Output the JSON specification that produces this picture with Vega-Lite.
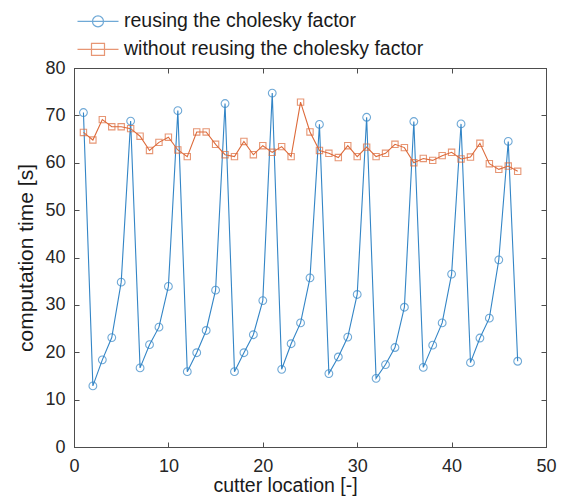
{
  "$schema": "https://vega.github.io/schema/vega-lite/v6.json",
  "width": 472,
  "height": 379,
  "autosize": {"type": "none"},
  "padding": {"left": 74, "top": 68, "right": 22, "bottom": 51},
  "background": "white",
  "config": {
    "font": "Liberation Sans",
    "view": {"stroke": "#4d4d4d", "strokeWidth": 1},
    "axis": {
      "grid": false,
      "domainColor": "#4d4d4d",
      "tickColor": "#4d4d4d",
      "tickSize": -5,
      "labelFlush": false,
      "labelFont": "Liberation Sans",
      "labelFontSize": 18,
      "labelColor": "#262626",
      "titleFont": "Liberation Sans",
      "titleFontWeight": "normal",
      "titleColor": "#1a1a1a",
      "titleFontSize": 20
    }
  },
  "data": {"values": [
    {"x":1,"t":70.6,"s":"reusing the cholesky factor"},
    {"x":2,"t":12.9,"s":"reusing the cholesky factor"},
    {"x":3,"t":18.4,"s":"reusing the cholesky factor"},
    {"x":4,"t":23.1,"s":"reusing the cholesky factor"},
    {"x":5,"t":34.8,"s":"reusing the cholesky factor"},
    {"x":6,"t":68.8,"s":"reusing the cholesky factor"},
    {"x":7,"t":16.7,"s":"reusing the cholesky factor"},
    {"x":8,"t":21.6,"s":"reusing the cholesky factor"},
    {"x":9,"t":25.3,"s":"reusing the cholesky factor"},
    {"x":10,"t":33.9,"s":"reusing the cholesky factor"},
    {"x":11,"t":71.0,"s":"reusing the cholesky factor"},
    {"x":12,"t":15.9,"s":"reusing the cholesky factor"},
    {"x":13,"t":19.9,"s":"reusing the cholesky factor"},
    {"x":14,"t":24.6,"s":"reusing the cholesky factor"},
    {"x":15,"t":33.1,"s":"reusing the cholesky factor"},
    {"x":16,"t":72.5,"s":"reusing the cholesky factor"},
    {"x":17,"t":15.9,"s":"reusing the cholesky factor"},
    {"x":18,"t":19.9,"s":"reusing the cholesky factor"},
    {"x":19,"t":23.7,"s":"reusing the cholesky factor"},
    {"x":20,"t":30.9,"s":"reusing the cholesky factor"},
    {"x":21,"t":74.7,"s":"reusing the cholesky factor"},
    {"x":22,"t":16.4,"s":"reusing the cholesky factor"},
    {"x":23,"t":21.8,"s":"reusing the cholesky factor"},
    {"x":24,"t":26.2,"s":"reusing the cholesky factor"},
    {"x":25,"t":35.7,"s":"reusing the cholesky factor"},
    {"x":26,"t":68.1,"s":"reusing the cholesky factor"},
    {"x":27,"t":15.5,"s":"reusing the cholesky factor"},
    {"x":28,"t":19.0,"s":"reusing the cholesky factor"},
    {"x":29,"t":23.2,"s":"reusing the cholesky factor"},
    {"x":30,"t":32.2,"s":"reusing the cholesky factor"},
    {"x":31,"t":69.6,"s":"reusing the cholesky factor"},
    {"x":32,"t":14.5,"s":"reusing the cholesky factor"},
    {"x":33,"t":17.4,"s":"reusing the cholesky factor"},
    {"x":34,"t":21.0,"s":"reusing the cholesky factor"},
    {"x":35,"t":29.5,"s":"reusing the cholesky factor"},
    {"x":36,"t":68.7,"s":"reusing the cholesky factor"},
    {"x":37,"t":16.8,"s":"reusing the cholesky factor"},
    {"x":38,"t":21.5,"s":"reusing the cholesky factor"},
    {"x":39,"t":26.2,"s":"reusing the cholesky factor"},
    {"x":40,"t":36.5,"s":"reusing the cholesky factor"},
    {"x":41,"t":68.2,"s":"reusing the cholesky factor"},
    {"x":42,"t":17.8,"s":"reusing the cholesky factor"},
    {"x":43,"t":23.0,"s":"reusing the cholesky factor"},
    {"x":44,"t":27.2,"s":"reusing the cholesky factor"},
    {"x":45,"t":39.5,"s":"reusing the cholesky factor"},
    {"x":46,"t":64.5,"s":"reusing the cholesky factor"},
    {"x":47,"t":18.1,"s":"reusing the cholesky factor"},
    {"x":1,"t":66.4,"s":"without reusing the cholesky factor"},
    {"x":2,"t":64.8,"s":"without reusing the cholesky factor"},
    {"x":3,"t":69.1,"s":"without reusing the cholesky factor"},
    {"x":4,"t":67.6,"s":"without reusing the cholesky factor"},
    {"x":5,"t":67.6,"s":"without reusing the cholesky factor"},
    {"x":6,"t":67.2,"s":"without reusing the cholesky factor"},
    {"x":7,"t":65.6,"s":"without reusing the cholesky factor"},
    {"x":8,"t":62.6,"s":"without reusing the cholesky factor"},
    {"x":9,"t":64.3,"s":"without reusing the cholesky factor"},
    {"x":10,"t":65.4,"s":"without reusing the cholesky factor"},
    {"x":11,"t":62.7,"s":"without reusing the cholesky factor"},
    {"x":12,"t":61.3,"s":"without reusing the cholesky factor"},
    {"x":13,"t":66.5,"s":"without reusing the cholesky factor"},
    {"x":14,"t":66.5,"s":"without reusing the cholesky factor"},
    {"x":15,"t":63.9,"s":"without reusing the cholesky factor"},
    {"x":16,"t":61.7,"s":"without reusing the cholesky factor"},
    {"x":17,"t":61.3,"s":"without reusing the cholesky factor"},
    {"x":18,"t":64.5,"s":"without reusing the cholesky factor"},
    {"x":19,"t":61.7,"s":"without reusing the cholesky factor"},
    {"x":20,"t":63.6,"s":"without reusing the cholesky factor"},
    {"x":21,"t":62.2,"s":"without reusing the cholesky factor"},
    {"x":22,"t":63.4,"s":"without reusing the cholesky factor"},
    {"x":23,"t":61.3,"s":"without reusing the cholesky factor"},
    {"x":24,"t":72.8,"s":"without reusing the cholesky factor"},
    {"x":25,"t":66.5,"s":"without reusing the cholesky factor"},
    {"x":26,"t":62.6,"s":"without reusing the cholesky factor"},
    {"x":27,"t":62.0,"s":"without reusing the cholesky factor"},
    {"x":28,"t":61.1,"s":"without reusing the cholesky factor"},
    {"x":29,"t":63.6,"s":"without reusing the cholesky factor"},
    {"x":30,"t":61.3,"s":"without reusing the cholesky factor"},
    {"x":31,"t":63.3,"s":"without reusing the cholesky factor"},
    {"x":32,"t":61.3,"s":"without reusing the cholesky factor"},
    {"x":33,"t":62.0,"s":"without reusing the cholesky factor"},
    {"x":34,"t":63.9,"s":"without reusing the cholesky factor"},
    {"x":35,"t":63.2,"s":"without reusing the cholesky factor"},
    {"x":36,"t":60.0,"s":"without reusing the cholesky factor"},
    {"x":37,"t":60.9,"s":"without reusing the cholesky factor"},
    {"x":38,"t":60.5,"s":"without reusing the cholesky factor"},
    {"x":39,"t":61.5,"s":"without reusing the cholesky factor"},
    {"x":40,"t":62.2,"s":"without reusing the cholesky factor"},
    {"x":41,"t":60.8,"s":"without reusing the cholesky factor"},
    {"x":42,"t":61.2,"s":"without reusing the cholesky factor"},
    {"x":43,"t":64.1,"s":"without reusing the cholesky factor"},
    {"x":44,"t":59.8,"s":"without reusing the cholesky factor"},
    {"x":45,"t":58.6,"s":"without reusing the cholesky factor"},
    {"x":46,"t":59.3,"s":"without reusing the cholesky factor"},
    {"x":47,"t":58.2,"s":"without reusing the cholesky factor"}
  ]},
  "resolve": {"axis": {"x": "independent", "y": "independent"}},
  "layer": [
    {
      "mark": {"type": "line", "strokeWidth": 1.1, "clip": true},
      "encoding": {
        "x": {"field": "x", "type": "quantitative",
              "scale": {"domain": [0, 50], "nice": false},
              "axis": {"values": [0,10,20,30,40,50], "title": "cutter location [-]",
                       "labelPadding": 15, "titleX": 211, "titleY": 44.5, "titleBaseline": "alphabetic", "titleAlign": "center", "titleFontSize": 19.5}},
        "y": {"field": "t", "type": "quantitative",
              "scale": {"domain": [0, 80], "nice": false},
              "axis": {"values": [0,10,20,30,40,50,60,70,80], "title": "computation time [s]",
                       "labelPadding": 14, "titlePadding": 8, "titleFontSize": 21}},
        "color": {"field": "s", "type": "nominal",
                  "scale": {"domain": ["reusing the cholesky factor", "without reusing the cholesky factor"],
                            "range": ["#3385c6", "#dd6a3a"]}},
        "detail": {"field": "s"}
      }
    },
    {
      "mark": {"type": "point", "filled": false, "strokeWidth": 1.1, "clip": true},
      "encoding": {
        "x": {"field": "x", "type": "quantitative",
              "axis": {"orient": "top", "values": [0,10,20,30,40,50], "labels": false, "title": null}},
        "y": {"field": "t", "type": "quantitative",
              "axis": {"orient": "right", "values": [0,10,20,30,40,50,60,70,80], "labels": false, "title": null}},
        "color": {"field": "s", "type": "nominal"},
        "shape": {"condition": {"test": "datum.s === 'reusing the cholesky factor'", "value": "circle"}, "value": "square"},
        "size": {"condition": {"test": "datum.s === 'reusing the cholesky factor'", "value": 60}, "value": 40}
      }
    },
    {
      "transform": [{"filter": "false"}],
      "mark": {"type": "point", "filled": false, "strokeWidth": 1.2, "size": 400},
      "encoding": {
        "x": {"field": "x", "type": "quantitative", "axis": null},
        "y": {"field": "t", "type": "quantitative", "axis": null},
        "color": {"field": "s", "type": "nominal",
                  "legend": {"orient": "none", "legendX": 13, "legendY": -57.6, "title": null, "padding": 0,
                             "labelFont": "Liberation Sans", "labelFontSize": 19.5, "labelColor": "#1a1a1a",
                             "labelOffset": 15, "rowPadding": 7, "symbolSize": 400, "symbolStrokeWidth": 1.2,
                             "labelLimit": 400}},
        "shape": {"field": "s", "type": "nominal",
                  "scale": {"domain": ["reusing the cholesky factor", "without reusing the cholesky factor"],
                            "range": ["M-2.05,0H2.05M0.55,0A0.55,0.55,0,1,1,-0.55,0A0.55,0.55,0,1,1,0.55,0",
                                      "M-2.05,0H2.05M-0.65,-0.6H0.65V0.6H-0.65Z"]},
                  "legend": {"orient": "none", "legendX": 13, "legendY": -57.6, "title": null, "padding": 0,
                             "labelFont": "Liberation Sans", "labelFontSize": 19.5, "labelColor": "#1a1a1a",
                             "labelOffset": 15, "rowPadding": 7, "symbolSize": 400, "symbolStrokeWidth": 1.2,
                             "labelLimit": 400}}
      }
    }
  ]
}
